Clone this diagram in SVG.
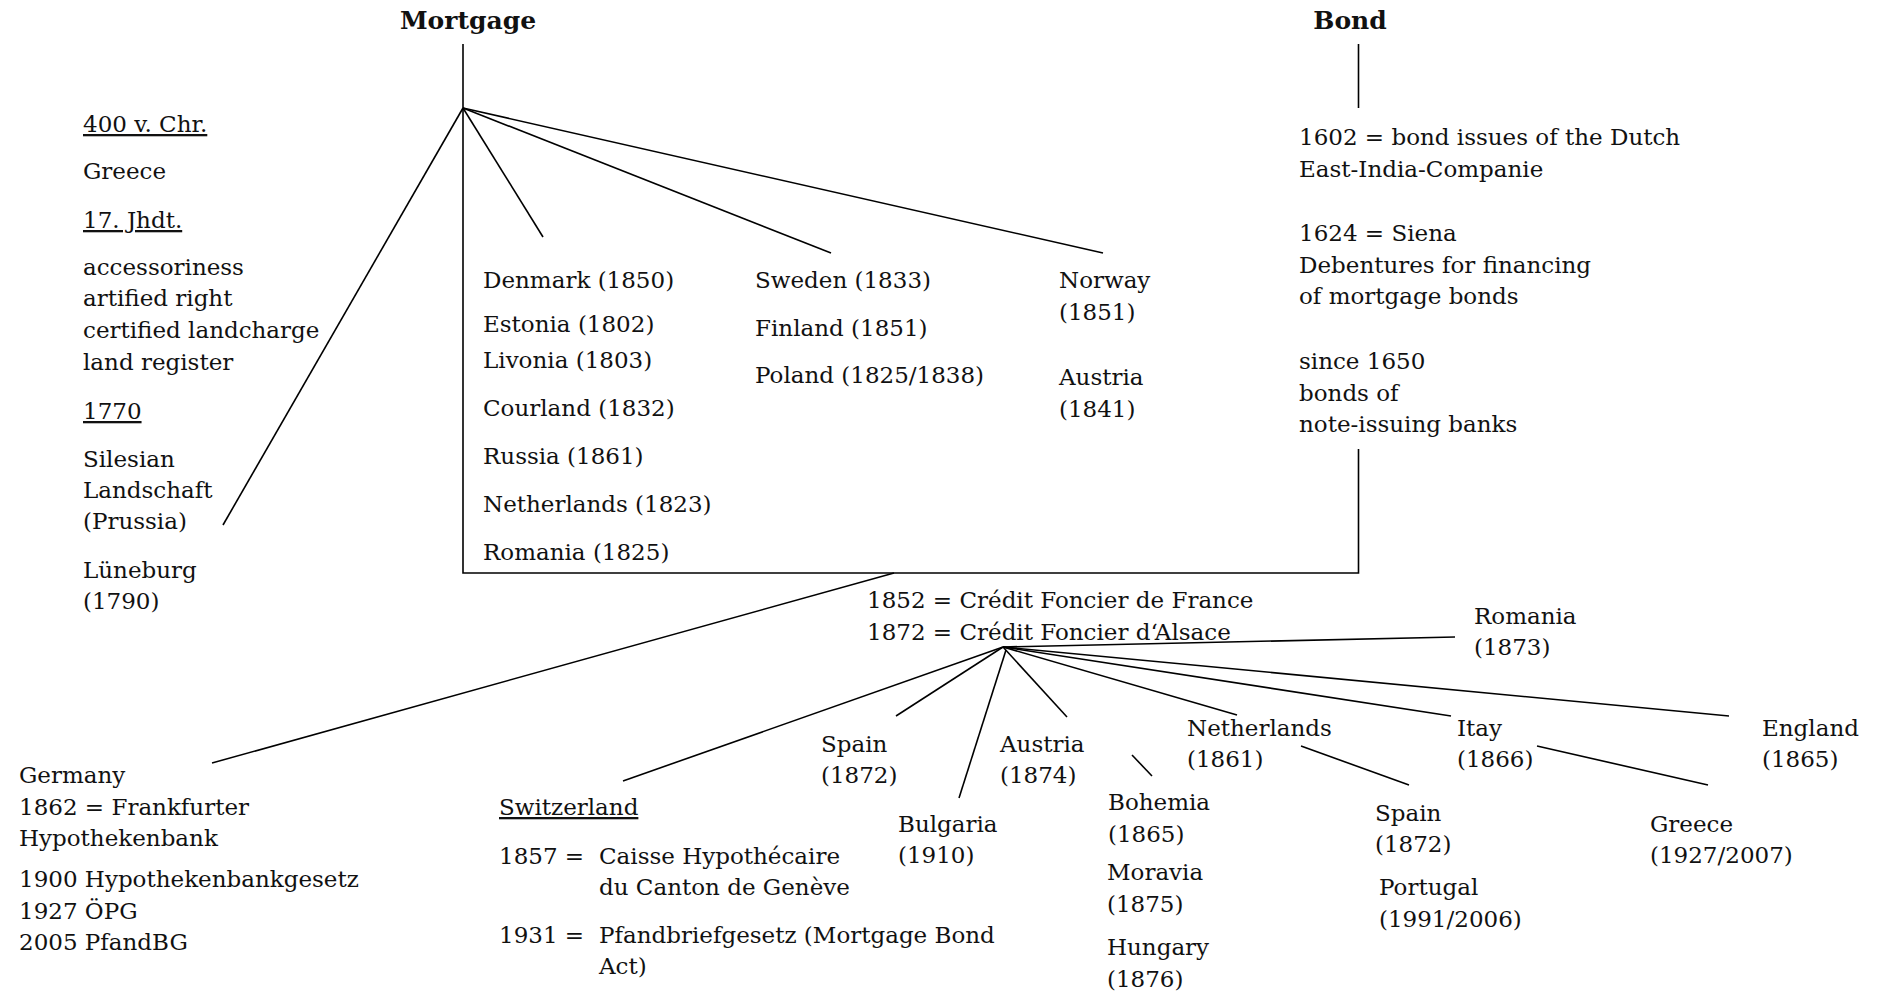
<svg xmlns="http://www.w3.org/2000/svg" width="1883" height="1001" viewBox="0 0 1883 1001">
<style>
text{font-family:"DejaVu Serif","Liberation Serif",serif;font-size:23px;fill:#111}
.t{font-weight:bold;font-size:25px}
.u{text-decoration:underline}
.c line,.c polyline{stroke:#000;stroke-width:1.6;fill:none}
</style>
<rect width="1883" height="1001" fill="#fff"/>
<g class="c" id="connectors">
<line x1="463" y1="44" x2="463" y2="108"/>
<line x1="1358.5" y1="44" x2="1358.5" y2="108"/>
<polyline points="463,108 463,573 1358.5,573 1358.5,449"/>
<line x1="463" y1="108" x2="223" y2="525"/>
<line x1="463" y1="108" x2="543" y2="237"/>
<line x1="463" y1="108" x2="831" y2="253"/>
<line x1="463" y1="108" x2="1103" y2="253"/>
<line x1="894" y1="573" x2="212" y2="763"/>
<line x1="1003" y1="647" x2="1455" y2="637"/>
<line x1="1003" y1="647" x2="1729" y2="716"/>
<line x1="1003" y1="647" x2="1451" y2="716"/>
<line x1="1003" y1="647" x2="1237" y2="715"/>
<line x1="1003" y1="647" x2="1067" y2="717"/>
<line x1="1006" y1="650" x2="959" y2="798"/>
<line x1="1003" y1="647" x2="896" y2="716"/>
<line x1="1003" y1="647" x2="623" y2="781"/>
<line x1="1132" y1="755" x2="1152" y2="776"/>
<line x1="1301" y1="746" x2="1409" y2="785"/>
<line x1="1537" y1="746" x2="1708" y2="785"/>
</g>
<g id="mortgage"><text class="t" x="468" y="29" text-anchor="middle">Mortgage</text></g>
<g id="bond"><text class="t" x="1350" y="29" text-anchor="middle">Bond</text></g>
<g id="bond-history">
<text x="1299" y="145">1602 = bond issues of the Dutch</text>
<text x="1299" y="177">East-India-Companie</text>
<text x="1299" y="241">1624 = Siena</text>
<text x="1299" y="273">Debentures for financing</text>
<text x="1299" y="304">of mortgage bonds</text>
<text x="1299" y="369">since 1650</text>
<text x="1299" y="401">bonds of</text>
<text x="1299" y="432">note-issuing banks</text>
</g>
<g id="history">
<text class="u" x="83" y="132">400 v. Chr.</text>
<text x="83" y="179">Greece</text>
<text class="u" x="83" y="228">17. Jhdt.</text>
<text x="83" y="275">accessoriness</text>
<text x="83" y="306">artified right</text>
<text x="83" y="338">certified landcharge</text>
<text x="83" y="370">land register</text>
<text class="u" x="83" y="419">1770</text>
<text x="83" y="467">Silesian</text>
<text x="83" y="498">Landschaft</text>
<text x="83" y="529">(Prussia)</text>
<text x="83" y="578">Lüneburg</text>
<text x="83" y="609">(1790)</text>
</g>
<g id="col-denmark">
<text x="483" y="288">Denmark (1850)</text>
<text x="483" y="332">Estonia (1802)</text>
<text x="483" y="368">Livonia (1803)</text>
<text x="483" y="416">Courland (1832)</text>
<text x="483" y="464">Russia (1861)</text>
<text x="483" y="512">Netherlands (1823)</text>
<text x="483" y="560">Romania (1825)</text>
</g>
<g id="col-sweden">
<text x="755" y="288">Sweden (1833)</text>
<text x="755" y="336">Finland (1851)</text>
<text x="755" y="383">Poland (1825/1838)</text>
</g>
<g id="col-norway">
<text x="1059" y="288">Norway</text>
<text x="1059" y="320">(1851)</text>
<text x="1059" y="385">Austria</text>
<text x="1059" y="417">(1841)</text>
</g>
<g id="credit-foncier">
<text x="867" y="608">1852 = Crédit Foncier de France</text>
<text x="867" y="640">1872 = Crédit Foncier d‘Alsace</text>
</g>
<g id="germany">
<text x="19" y="783">Germany</text>
<text x="19" y="815">1862 = Frankfurter</text>
<text x="19" y="846">Hypothekenbank</text>
<text x="19" y="887">1900 Hypothekenbankgesetz</text>
<text x="19" y="919">1927 ÖPG</text>
<text x="19" y="950">2005 PfandBG</text>
</g>
<g id="switzerland">
<text class="u" x="499" y="815">Switzerland</text>
<text x="499" y="864">1857 =</text>
<text x="599" y="864">Caisse Hypothécaire</text>
<text x="599" y="895">du Canton de Genève</text>
<text x="499" y="943">1931 =</text>
<text x="599" y="943">Pfandbriefgesetz (Mortgage Bond</text>
<text x="599" y="974">Act)</text>
</g>
<g id="spain1"><text x="821" y="752">Spain</text><text x="821" y="783">(1872)</text></g>
<g id="bulgaria"><text x="898" y="832">Bulgaria</text><text x="898" y="863">(1910)</text></g>
<g id="austria2"><text x="1000" y="752">Austria</text><text x="1000" y="783">(1874)</text></g>
<g id="bohemia"><text x="1108" y="810">Bohemia</text><text x="1108" y="842">(1865)</text></g>
<g id="moravia"><text x="1107" y="880">Moravia</text><text x="1107" y="912">(1875)</text></g>
<g id="hungary"><text x="1107" y="955">Hungary</text><text x="1107" y="987">(1876)</text></g>
<g id="netherlands2"><text x="1187" y="736">Netherlands</text><text x="1187" y="767">(1861)</text></g>
<g id="spain2"><text x="1375" y="821">Spain</text><text x="1375" y="852">(1872)</text></g>
<g id="portugal"><text x="1379" y="895">Portugal</text><text x="1379" y="927">(1991/2006)</text></g>
<g id="itay"><text x="1457" y="736">Itay</text><text x="1457" y="767">(1866)</text></g>
<g id="greece2"><text x="1650" y="832">Greece</text><text x="1650" y="863">(1927/2007)</text></g>
<g id="england"><text x="1762" y="736">England</text><text x="1762" y="767">(1865)</text></g>
<g id="romania2"><text x="1474" y="624">Romania</text><text x="1474" y="655">(1873)</text></g>
</svg>
